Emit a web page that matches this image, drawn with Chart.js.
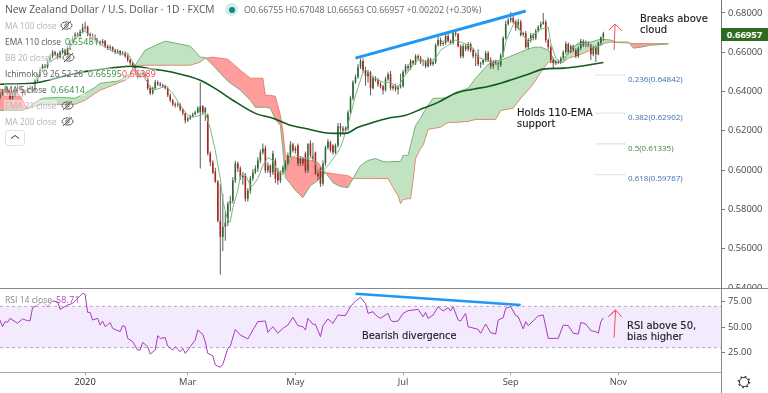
<!DOCTYPE html>
<html>
<head>
<meta charset="utf-8">
<title>NZD/USD</title>
<script src="https://cdn.jsdelivr.net/npm/chart.js@4"></script>
<style>
  html, body { margin: 0; padding: 0; background: #fff; }
  #wrap { position: relative; width: 768px; height: 393px; overflow: hidden; font-family: "Open Sans", sans-serif; }
  canvas { position: absolute; left: 0; display: block; }
  #priceChart { top: 0; }
  #rsiChart { top: 288px; }
  .t { position: absolute; white-space: nowrap; line-height: 12px; }
  .leg { font-size: 8.4px; color: #555; background: rgba(255,255,255,.45); padding: 0 1px; left: 4px; }
  .val { font-size: 8.8px; letter-spacing: .2px; background: rgba(255,255,255,.45); }
  .off { color: #b4b4b4; }
  .note { font-family: "DejaVu Sans", sans-serif; font-size: 10px; color: #1d1d24; -webkit-text-stroke: .15px #1d1d24; }
  .fib { font-size: 8px; color: #3f6db5; }
  .rule { position: absolute; background: #8a8a8a; }
  svg { position: absolute; }
</style>
</head>
<body>
<div id="wrap">
  <canvas id="priceChart" width="768" height="289"></canvas>
  <canvas id="rsiChart" width="768" height="105"></canvas>

  <div class="rule" style="left:0;top:288px;width:768px;height:1px"></div>
  <div class="rule" style="left:721px;top:288px;width:1px;height:105px"></div>

  <div class="t" style="left:5px;top:3px;font-size:10.3px;color:#555">New Zealand Dollar / U.S. Dollar · 1D · FXCM</div>
  <div class="t" style="left:225px;top:3px;width:13px;height:13px;border-radius:50%;background:#cfeeea"></div>
  <div class="t" style="left:228.5px;top:6.5px;width:6px;height:6px;border-radius:50%;background:#12897c"></div>
  <div class="t" style="left:244px;top:4px;font-size:8.8px;color:#666">O0.66755 H0.67048 L0.66563 C0.66957 +0.00202 (+0.30%)</div>

  <div class="t leg off" style="top:20px">MA 100 close</div>
  <div class="t leg" style="top:36px">EMA 110 close</div>
  <div class="t val" style="left:65px;top:36px;color:#2e8b3a">0.65481</div>
  <div class="t leg off" style="top:52px">BB 20 close</div>
  <div class="t leg" style="top:68px">Ichimoku 9 26 52 26</div>
  <div class="t val" style="left:88px;top:68px;color:#2e8b3a">0.66595</div>
  <div class="t val" style="left:122px;top:68px;color:#ef3b3b">0.66389</div>
  <div class="t leg" style="top:84px">MA 5 close</div>
  <div class="t val" style="left:51px;top:84px;color:#2e8b3a">0.66414</div>
  <div class="t leg off" style="top:100px">EMA 21 close</div>
  <div class="t leg off" style="top:116px">MA 200 close</div>

  <svg style="left:60px;top:19px" width="13" height="13"><use href="#eye"/></svg>
  <svg style="left:62px;top:51px" width="13" height="13"><use href="#eye"/></svg>
  <svg style="left:61px;top:99px" width="13" height="13"><use href="#eye"/></svg>
  <svg style="left:61px;top:115px" width="13" height="13"><use href="#eye"/></svg>
  <svg width="0" height="0"><defs><g id="eye" fill="none" stroke="#555" stroke-width="1"><ellipse cx="6.5" cy="6.5" rx="5.5" ry="3.6"/><circle cx="6.5" cy="6.5" r="1.7"/><path d="M2 11L11 2"/></g></defs></svg>

  <div class="t" style="left:5px;top:130px;width:18px;height:14px;border:1px solid #dfe1e6;border-radius:3px;background:#fff"></div>
  <svg style="left:10px;top:134px" width="10" height="6"><path d="M1 4.5L5 1.5L9 4.5" fill="none" stroke="#333" stroke-width="1"/></svg>

  <div class="t" style="left:721px;top:28px;width:47px;height:13px;background:#2f6a1d;color:#fff;font-size:9.5px;font-weight:700;line-height:13px;text-align:center">0.66957</div>

  <div class="t note" style="left:640px;top:13px">Breaks above</div>
  <div class="t note" style="left:640px;top:24px">cloud</div>
  <div class="t note" style="left:517px;top:107px">Holds 110-EMA</div>
  <div class="t note" style="left:517px;top:118px">support</div>
  <div class="t note" style="left:362px;top:330px;font-size:9.8px">Bearish divergence</div>
  <div class="t note" style="left:627px;top:320px">RSI above 50,</div>
  <div class="t note" style="left:627px;top:331px">bias higher</div>

  <div class="t fib" style="left:628px;top:73px">0.236(0.64842)</div>
  <div class="t fib" style="left:628px;top:111px">0.382(0.62902)</div>
  <div class="t fib" style="left:628px;top:142px;color:#3e8045">0.5(0.61335)</div>
  <div class="t fib" style="left:628px;top:172px">0.618(0.59767)</div>

  <div class="t" style="left:5px;top:294px;font-size:8.6px;color:#888;background:rgba(255,255,255,.45)">RSI 14 close</div>
  <div class="t" style="left:56px;top:294px;font-size:9px;color:#ab47bc;letter-spacing:.2px">58.71</div>

  <svg style="left:736px;top:374px" width="16" height="16"><circle cx="8" cy="8" r="4.6" fill="none" stroke="#333" stroke-width="1"/><circle cx="8" cy="8" r="5.6" fill="none" stroke="#333" stroke-width="1.4" stroke-dasharray="1.6 2.8"/></svg>
</div>

<script>
// NZD/USD daily candles
const opens = [
  .6370,.6385,.6400,.6420,.6395,.6365,.6380,.6405,.6425,.6410,
  .6390,.6400,.6415,.6420,.6405,.6455,.6480,.6510,.6530,.6525,
  .6555,.6580,.6600,.6590,.6575,.6600,.6610,.6590,.6620,.6650,
  .6670,.6690,.6680,.6705,.6725,.6730,.6693,.6677,.6682,.6662,
  .6652,.6647,.6657,.6631,.6621,.6626,.6611,.6601,.6606,.6591,
  .6596,.6580,.6560,.6545,.6529,.6498,.6473,.6483,.6493,.6468,
  .6417,.6391,.6417,.6447,.6437,.6432,.6427,.6417,.6381,.6355,
  .6335,.6330,.6335,.6309,.6289,.6253,.6263,.6274,.6284,.6294,
  .6294,.6325,.6294,.6279,.6085,.6039,.5993,.5942,.5742,.5660,
  .5712,.5732,.5829,.5844,.5947,.6034,.6008,.5962,.5972,.5855,
  .5896,.5957,.5988,.6008,.6049,.6090,.6110,.5998,.6023,.5988,
  .6049,.5998,.5947,.5988,.6013,.6034,.6075,.6131,.6100,.6126,
  .6034,.6059,.6085,.5998,.6136,.6075,.6090,.5983,.6008,.5931,
  .6034,.6115,.6141,.6126,.6090,.6126,.6223,.6212,.6202,.6212,
  .6294,.6366,.6447,.6473,.6524,.6555,.6509,.6478,.6498,.6417,
  .6468,.6457,.6437,.6427,.6407,.6463,.6488,.6417,.6427,.6412,
  .6422,.6427,.6498,.6529,.6519,.6555,.6544,.6580,.6570,.6550,
  .6550,.6529,.6565,.6539,.6550,.6636,.6662,.6642,.6647,.6683,
  .6657,.6647,.6698,.6693,.6631,.6580,.6631,.6616,.6642,.6611,
  .6580,.6585,.6539,.6544,.6560,.6596,.6560,.6529,.6550,.6544,
  .6534,.6585,.6672,.6744,.6764,.6774,.6754,.6723,.6754,.6688,
  .6698,.6626,.6662,.6688,.6672,.6708,.6728,.6744,.6754,.6662,
  .6626,.6560,.6544,.6550,.6550,.6570,.6601,.6642,.6601,.6631,
  .6611,.6580,.6621,.6657,.6636,.6642,.6636,.6590,.6626,.6590,
  .6647,.66755
];
const highs = [
  .6400,.6412,.6432,.6425,.6402,.6392,.6415,.6436,.6432,.6415,
  .6410,.6425,.6432,.6428,.6465,.6490,.6522,.6542,.6540,.6565,
  .6592,.6612,.6608,.6598,.6610,.6622,.6618,.6632,.6665,.6682,
  .6702,.6700,.6716,.6745,.6754,.6735,.6700,.6695,.6690,.6672,
  .6660,.6668,.6662,.6640,.6638,.6630,.6618,.6616,.6612,.6606,
  .6605,.6590,.6570,.6552,.6535,.6508,.6495,.6503,.6500,.6475,
  .6430,.6425,.6460,.6456,.6448,.6440,.6435,.6425,.6390,.6362,
  .6345,.6345,.6340,.6315,.6295,.6272,.6282,.6292,.6302,.6325,
  .6447,.6332,.6322,.6288,.6095,.6050,.6012,.5950,.5931,.5880,
  .5790,.5840,.5870,.5965,.6048,.6044,.6020,.5990,.5985,.5908,
  .5970,.6005,.6025,.6065,.6105,.6135,.6125,.6040,.6030,.6100,
  .6060,.6012,.5998,.6025,.6050,.6090,.6148,.6140,.6122,.6135,
  .6072,.6068,.6095,.6025,.6152,.6140,.6095,.6000,.6015,.6050,
  .6125,.6158,.6150,.6132,.6135,.6240,.6240,.6225,.6222,.6305,
  .6378,.6458,.6485,.6540,.6568,.6570,.6525,.6510,.6505,.6480,
  .6478,.6468,.6450,.6435,.6475,.6498,.6505,.6435,.6440,.6432,
  .6490,.6510,.6540,.6540,.6565,.6560,.6590,.6590,.6582,.6565,
  .6560,.6575,.6572,.6558,.6645,.6680,.6675,.6660,.6695,.6695,
  .6665,.6708,.6712,.6698,.6640,.6642,.6645,.6652,.6650,.6622,
  .6598,.6615,.6552,.6565,.6608,.6606,.6575,.6560,.6562,.6552,
  .6595,.6682,.6760,.6775,.6805,.6785,.6765,.6770,.6765,.6705,
  .6708,.6672,.6698,.6698,.6718,.6738,.6756,.6800,.6765,.6670,
  .6635,.6570,.6560,.6562,.6578,.6610,.6655,.6650,.6640,.6640,
  .6620,.6630,.6668,.6665,.6660,.6655,.6645,.6635,.6635,.6655,
  .6680,.67048
];
const lows = [
  .6360,.6378,.6395,.6385,.6355,.6360,.6375,.6398,.6402,.6375,
  .6380,.6392,.6408,.6395,.6400,.6445,.6470,.6500,.6512,.6515,
  .6545,.6570,.6580,.6565,.6568,.6590,.6582,.6585,.6612,.6640,
  .6662,.6672,.6672,.6695,.6712,.6682,.6665,.6668,.6650,.6645,
  .6635,.6640,.6622,.6612,.6612,.6600,.6590,.6592,.6582,.6585,
  .6572,.6550,.6535,.6515,.6488,.6462,.6468,.6478,.6458,.6408,
  .6382,.6385,.6410,.6428,.6425,.6418,.6410,.6372,.6345,.6325,
  .6318,.6322,.6300,.6280,.6238,.6245,.6255,.6270,.6280,.6288,
  .6008,.6285,.6250,.6075,.6020,.5980,.5935,.5735,.5469,.5589,
  .5640,.5715,.5790,.5830,.5935,.5990,.5950,.5925,.5840,.5840,
  .5880,.5945,.5980,.5990,.6035,.6080,.5985,.5985,.5965,.5975,
  .5935,.5925,.5935,.5975,.5998,.6025,.6065,.6090,.6085,.6020,
  .6020,.6022,.5985,.5985,.6065,.6045,.5975,.5950,.5915,.5920,
  .6022,.6105,.6090,.6078,.6082,.6115,.6170,.6180,.6190,.6200,
  .6285,.6355,.6440,.6465,.6515,.6495,.6430,.6445,.6381,.6410,
  .6450,.6425,.6415,.6385,.6400,.6455,.6405,.6405,.6400,.6385,
  .6415,.6420,.6490,.6505,.6510,.6535,.6535,.6560,.6540,.6530,
  .6518,.6522,.6530,.6530,.6540,.6628,.6630,.6632,.6638,.6650,
  .6640,.6640,.6680,.6625,.6570,.6570,.6605,.6605,.6600,.6570,
  .6530,.6530,.6520,.6535,.6550,.6550,.6515,.6515,.6535,.6510,
  .6525,.6575,.6665,.6735,.6750,.6745,.6710,.6715,.6680,.6680,
  .6618,.6615,.6650,.6660,.6662,.6700,.6720,.6740,.6650,.6615,
  .6545,.6515,.6535,.6540,.6540,.6560,.6590,.6590,.6595,.6600,
  .6570,.6572,.6610,.6625,.6625,.6625,.6560,.6580,.6550,.6585,
  .6635,.66563
];
const closes = [
  .6385,.6400,.6420,.6395,.6365,.6380,.6405,.6425,.6410,.6390,
  .6400,.6415,.6420,.6405,.6455,.6480,.6510,.6530,.6525,.6555,
  .6580,.6600,.6590,.6575,.6600,.6610,.6590,.6620,.6650,.6670,
  .6690,.6680,.6705,.6725,.6730,.6693,.6677,.6682,.6662,.6652,
  .6647,.6657,.6631,.6621,.6626,.6611,.6601,.6606,.6591,.6596,
  .6580,.6560,.6545,.6529,.6498,.6473,.6483,.6493,.6468,.6417,
  .6391,.6417,.6447,.6437,.6432,.6427,.6417,.6381,.6355,.6335,
  .6330,.6335,.6309,.6289,.6253,.6263,.6274,.6284,.6294,.6315,
  .6325,.6294,.6315,.6085,.6039,.5988,.5942,.5742,.5660,.5712,
  .5732,.5829,.5844,.5947,.6034,.6008,.5962,.5972,.5855,.5896,
  .5957,.5988,.6008,.6049,.6090,.6110,.5998,.6023,.5988,.6085,
  .5957,.5947,.5988,.6013,.6034,.6075,.6131,.6100,.6110,.6034,
  .6059,.6034,.5998,.6136,.6075,.6059,.5983,.5967,.5931,.6034,
  .6115,.6146,.6100,.6090,.6126,.6223,.6212,.6202,.6212,.6294,
  .6366,.6447,.6473,.6524,.6555,.6509,.6478,.6498,.6417,.6468,
  .6457,.6437,.6427,.6407,.6463,.6488,.6417,.6427,.6412,.6422,
  .6427,.6498,.6529,.6519,.6555,.6544,.6580,.6570,.6550,.6550,
  .6529,.6565,.6539,.6550,.6636,.6662,.6642,.6647,.6683,.6657,
  .6647,.6698,.6693,.6631,.6580,.6631,.6616,.6642,.6611,.6580,
  .6585,.6539,.6544,.6560,.6596,.6560,.6529,.6550,.6544,.6534,
  .6585,.6672,.6744,.6764,.6774,.6754,.6723,.6754,.6688,.6698,
  .6626,.6662,.6688,.6672,.6708,.6728,.6744,.6754,.6662,.6626,
  .6560,.6544,.6550,.6550,.6570,.6601,.6642,.6601,.6631,.6611,
  .6580,.6621,.6657,.6636,.6642,.6636,.6590,.6626,.6590,.6647,
  .6676,.66957
];

// Ichimoku cloud edges, sampled at bar numbers
const cloudBars = [0,4,7,9,11,14,17,24,30,34,38,40,47,50,52,54,58,66,76,80,82,85,91,96,100,102,105,106,108,110,112,113,114,116,118,121,124,127,130,133,136,139,141,144,147,150,153,155,157,159,160,161,163,164,165,166,168,169,171,173,176,179,182,187,190,195,198,200,205,208,212,214,216,219,222,225,227,231,236,240,244,246,251,253,256,260,267];
const spanA = [.6304,.6304,.6304,.6304,.6315,.6345,.6366,.6371,.6366,.6391,.6422,.6442,.6453,.6473,.6493,.6534,.6611,.6657,.6631,.6575,.6573,.6534,.6453,.6407,.6356,.6320,.6320,.6320,.6315,.6258,.6228,.6100,.5962,.5931,.5896,.5860,.5921,.5947,.5988,.5936,.5916,.5911,.5957,.6023,.6049,.6059,.6044,.6041,.6044,.6044,.6044,.6075,.6075,.6126,.6177,.6228,.6264,.6289,.6330,.6366,.6366,.6371,.6396,.6417,.6468,.6539,.6555,.6560,.6585,.6601,.6621,.6626,.6626,.6611,.6550,.6550,.6601,.6647,.6652,.6667,.6662,.6652,.6652,.6621,.6626,.6636,.6642];
const spanB = [.6412,.6407,.6396,.6356,.6315,.6325,.6335,.6335,.6335,.6356,.6391,.6407,.6442,.6458,.6473,.6529,.6534,.6534,.6534,.6550,.6570,.6575,.6565,.6509,.6468,.6468,.6468,.6381,.6381,.6376,.6279,.6202,.6075,.6069,.6064,.6054,.6049,.6039,.5988,.5982,.5977,.5972,.5957,.5957,.5957,.5957,.5957,.5957,.5911,.5870,.5829,.5850,.5855,.5855,.5947,.6059,.6110,.6126,.6207,.6212,.6218,.6243,.6243,.6248,.6258,.6258,.6258,.6304,.6315,.6366,.6422,.6458,.6498,.6550,.6550,.6550,.6570,.6585,.6611,.6642,.6652,.6650,.6647,.6644,.6644,.6644,.6644];

// dark 110 EMA
const emaBars = [0,13,27,35,44,53,61,69,80,87,93,102,109,116,122,129,134,138,143,149,155,162,169,175,182,189,195,200,205,211,217,225,232,241];
const emaValues = [.6437,.6442,.6483,.6504,.6519,.6529,.6514,.6498,.6458,.6407,.6356,.6289,.6264,.6228,.6212,.6192,.6187,.6187,.6218,.6243,.6264,.6279,.6315,.6345,.6391,.6412,.6426,.6442,.6463,.6488,.6514,.6519,.6529,.6548];

// thin green short MA
const maBars = [13,16,20,24,28,31,34,37,40,44,48,51,53,56,59,61,64,66,69,72,75,77,80,82,84,86,88,89,91,92,93,95,96,98,100,101,103,105,107,109,111,114,116,118,121,124,125,127,129,131,134,136,137,140,142,145,146,149,153,156,159,161,165,167,171,174,176,179,182,185,189,191,194,199,201,202,204,206,208,211,215,219,220,222,224,227,230,233,237,240,241];
const maValues = [.6432,.6498,.6550,.6585,.6626,.6688,.6708,.6672,.6642,.6611,.6591,.6596,.6550,.6498,.6447,.6407,.6417,.6432,.6391,.6330,.6279,.6269,.6279,.6294,.6212,.6100,.5957,.5845,.5742,.5737,.5809,.5896,.5972,.5977,.5921,.5921,.5957,.6023,.6064,.6049,.5988,.5988,.6049,.6075,.6064,.6059,.6075,.5998,.5998,.6023,.6075,.6115,.6151,.6279,.6381,.6498,.6509,.6473,.6447,.6447,.6422,.6468,.6534,.6560,.6550,.6570,.6611,.6636,.6662,.6647,.6621,.6575,.6560,.6534,.6585,.6652,.6713,.6764,.6703,.6652,.6713,.6728,.6647,.6570,.6550,.6596,.6636,.6647,.6621,.6636,.6641];

// RSI 14
const rsiBars = [0,1,2,3,4,6,7,9,11,12,13,15,17,19,21,23,24,27,29,31,33,34,35,36,37,39,40,41,42,44,45,48,49,50,51,53,55,56,57,59,60,62,63,64,66,67,69,70,72,73,74,76,78,79,81,82,83,85,86,88,89,91,92,94,96,99,101,103,106,107,109,111,113,115,117,119,121,122,123,125,126,128,129,131,133,135,138,140,142,144,146,147,149,150,152,155,156,157,159,161,163,167,169,170,171,173,175,177,179,180,181,183,184,186,187,191,192,194,196,198,199,201,202,204,206,207,209,210,211,215,217,219,223,225,227,229,231,232,234,236,238,239,240,241];
const rsiValues = [56.8,50.3,55.2,54.5,58.4,55.2,53.6,57.8,56.1,56.1,68.7,71.3,74.5,69.7,75.2,74.5,67.1,71.3,72.9,77.8,82.6,81.7,64.2,64.2,56.8,58.4,51.9,55.8,50.3,54.2,48.7,45.5,51.3,50.3,39,35.8,27.7,27.7,35.1,30.9,23.8,27.7,41.6,39,39.7,31.6,27.7,30.9,26.1,29.3,24.5,30.9,37.4,47.1,42.9,35.8,24.5,22.2,13.2,10.9,13.8,29.3,31.6,47.7,42.2,38.4,47.1,55.2,55.8,44.8,50.3,43.9,48.7,51.9,59.4,51.3,50.3,47.1,58.4,52.6,52.6,40.6,51.3,57.8,53.6,61.6,61,69.7,75.2,78.7,72.9,63.2,64.9,61.6,58.4,63.2,56.8,55.2,55.8,63.2,65.8,67.1,60,64.2,58.4,61.6,69.7,65.5,68.7,65.5,69.7,56.8,55.8,63.2,50.3,47.7,43.9,52.9,44.5,43.2,56.8,59,68.1,69.7,61,60,48.1,55.2,51.3,60.7,61.6,39,39,51.9,51.3,43.9,43.2,54.5,52.9,46.4,45.5,43.9,55.2,58.71];

// axis labels
const priceTicks = [.68,.66,.64,.62,.60,.58,.56,.54];
const rsiTicks = [75,50,25];
const dateTickBars = [34,75,118,161,204,247];
const dateTickLabels = ['2020','Mar','May','Jul','Sep','Nov'];

// drawings on the chart
const fibLevels = [.64842,.62902,.61335,.59767];
const fibColors = ['#a9c4ea','#a9c4ea','#9cc39f','#a9c4ea'];
const fibBars = [238,250];
const trendBars = [142,210];
const trendValues = [.6570,.6810];
const rsiTrendBars = [142,208];
const rsiTrendValues = [82.3,71.3];
const arrowBars = [245.3,245.7,243.3,245.7,248.5];
const arrowValues = [.6611,.6744,.6713,.6744,.6708];
const rsiArrowBars = [245.3,245.9,243,245.9,248.5];
const rsiArrowValues = [39.7,66.5,60,66.5,59.4];
const bandLimits = [70,30];

const lastBarSlot = 288;
const axisFont = { family: 'Open Sans', size: 9.3 };

function zip(xs, ys) {
  return xs.map((x, i) => ({ x: x, y: ys[i] }));
}

function line(xs, ys, color, width, extra) {
  return Object.assign({
    type: 'line',
    data: zip(xs, ys),
    borderColor: color,
    borderWidth: width,
    pointRadius: 0,
    tension: 0,
    fill: false
  }, extra || {});
}

// keep the panes the same width and stop Chart.js reserving label room
function fitRight(scale) {
  scale.width = 47;
  scale.paddingTop = 0;
  scale.paddingBottom = 0;
}

function renderPriceChart() {
  const bars = opens.map((o, i) => i);
  const datasets = [
    // cloud
    line(cloudBars, spanA, '#74b27a', 1, {
      order: 9,
      fill: { target: '+1', above: 'rgba(76,175,80,0.35)', below: 'rgba(255,60,60,0.5)' }
    }),
    line(cloudBars, spanB, '#ef8f84', 1, { order: 9 }),
    // candles
    {
      type: 'bar',
      data: bars.map(i => ({ x: i, y: [lows[i], highs[i]] })),
      backgroundColor: '#5c5c5c',
      barThickness: 1,
      grouped: false,
      inflateAmount: 0,
      order: 6
    },
    {
      type: 'bar',
      data: bars.map(i => ({ x: i, y: [opens[i], closes[i]] })),
      backgroundColor: bars.map(i => closes[i] >= opens[i] ? '#2a6b31' : '#b3201f'),
      barThickness: 1.6,
      grouped: false,
      inflateAmount: 0,
      order: 5
    },
    line(maBars, maValues, '#78b97f', 1, { order: 4 }),
    line(emaBars, emaValues, '#0f5a1d', 1.6, { order: 3, cubicInterpolationMode: 'monotone' }),
    line(trendBars, trendValues, '#2196f3', 3, { order: 2 }),
    line(arrowBars, arrowValues, '#f4505a', 1, { order: 1 })
  ];
  fibLevels.forEach((level, i) => {
    datasets.push(line(fibBars, [level, level], fibColors[i], 1, { borderDash: [1, 1], order: 2 }));
  });

  new Chart(document.getElementById('priceChart'), {
    type: 'bar',
    data: { datasets: datasets },
    options: {
      responsive: false,
      animation: false,
      layout: { padding: 0 },
      plugins: { legend: { display: false }, tooltip: { enabled: false } },
      scales: {
        x: { type: 'linear', min: 0, max: lastBarSlot, display: false, offset: false },
        y: {
          position: 'right',
          min: 0.5395,
          max: 0.6866,
          afterFit: fitRight,
          afterBuildTicks: a => { a.ticks = priceTicks.map(v => ({ value: v })); },
          grid: { drawOnChartArea: false, tickLength: 4, color: '#777' },
          border: { color: '#777' },
          ticks: {
            font: axisFont,
            color: '#444',
            padding: 3,
            callback: v => v.toFixed(5)
          }
        }
      }
    }
  });
}

function renderRsiChart() {
  const datasets = [
    line([0, lastBarSlot], [bandLimits[0], bandLimits[0]], '#bda6c6', 1, {
      borderDash: [3, 3],
      order: 9,
      fill: { target: '+1', above: 'rgba(155,60,240,0.11)' }
    }),
    line([0, lastBarSlot], [bandLimits[1], bandLimits[1]], '#bda6c6', 1, { borderDash: [3, 3], order: 9 }),
    line(rsiBars, rsiValues, '#a63cbb', 1, { order: 4 }),
    line(rsiTrendBars, rsiTrendValues, '#2196f3', 2.5, { order: 2 }),
    line(rsiArrowBars, rsiArrowValues, '#f4505a', 1, { order: 1 })
  ];

  new Chart(document.getElementById('rsiChart'), {
    type: 'line',
    data: { datasets: datasets },
    options: {
      responsive: false,
      animation: false,
      layout: { padding: 0 },
      plugins: { legend: { display: false }, tooltip: { enabled: false } },
      scales: {
        x: {
          type: 'linear',
          min: 0,
          max: lastBarSlot,
          afterFit: s => { s.height = 21; s.paddingLeft = 0; s.paddingRight = 0; },
          afterBuildTicks: a => { a.ticks = dateTickBars.map(v => ({ value: v })); },
          grid: { drawOnChartArea: false, tickLength: 3, color: '#999' },
          border: { color: '#aaa' },
          ticks: {
            font: axisFont,
            color: ctx => ctx.index === 0 ? '#222' : '#444',
            padding: 2,
            maxRotation: 0,
            autoSkip: false,
            callback: v => dateTickLabels[dateTickBars.indexOf(v)]
          }
        },
        y: {
          position: 'right',
          min: 6.4,
          max: 87.8,
          afterFit: fitRight,
          afterBuildTicks: a => { a.ticks = rsiTicks.map(v => ({ value: v })); },
          grid: { drawOnChartArea: false, tickLength: 4, color: '#777' },
          border: { color: '#777' },
          ticks: {
            font: axisFont,
            color: '#444',
            padding: 3,
            callback: v => v.toFixed(2)
          }
        }
      }
    }
  });
}

renderPriceChart();
renderRsiChart();
</script>
</body>
</html>
